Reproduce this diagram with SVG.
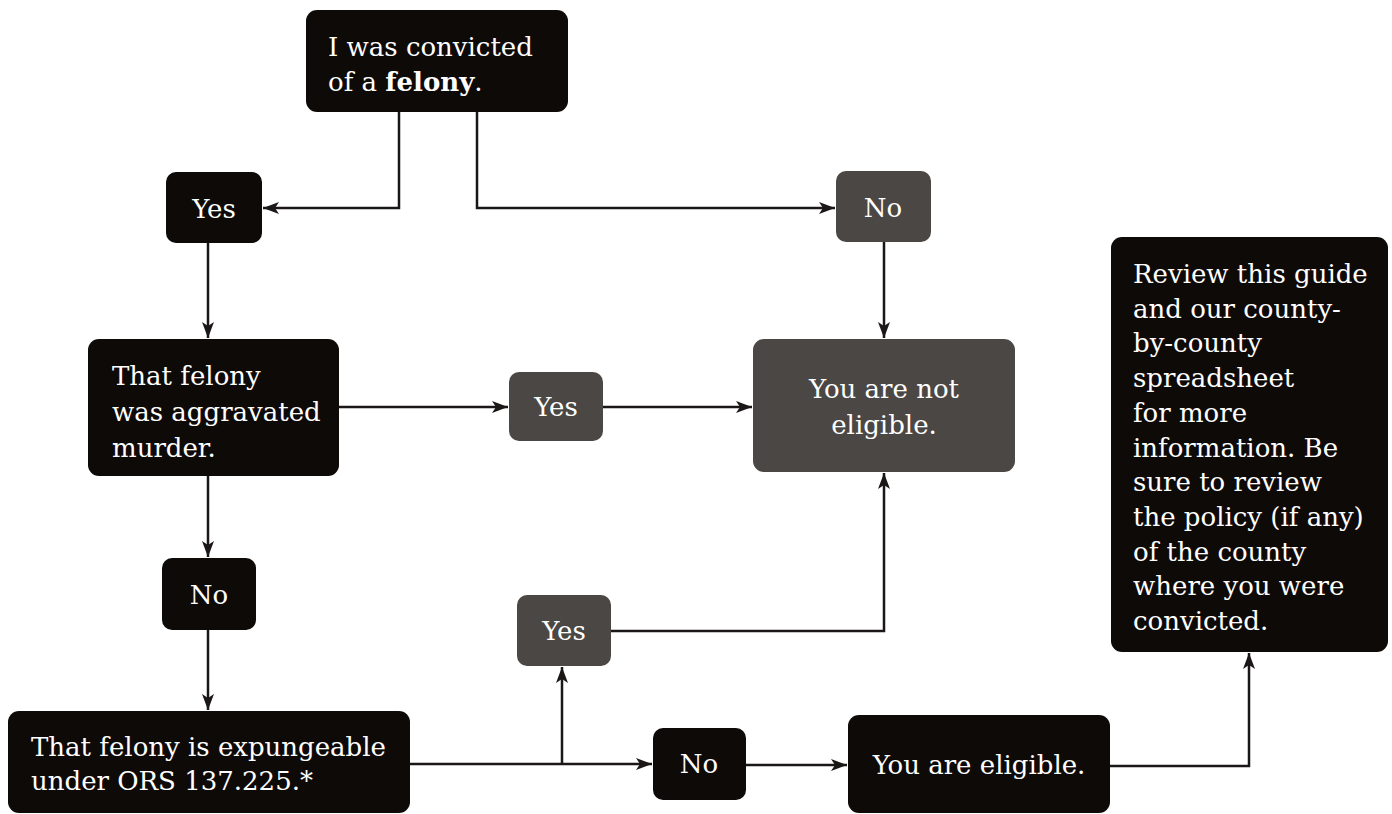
<svg xmlns="http://www.w3.org/2000/svg" width="1392" height="814" viewBox="0 0 1392 814">
<style>
.dk{fill:#0e0a08}
.gr{fill:#4b4744}
text{font-family:"DejaVu Serif","Liberation Serif",serif;font-size:26px;fill:#ffffff}
.c{fill:none;stroke:#1a1716;stroke-width:2.5}
</style>
<defs>
<marker id="a" viewBox="0 0 16 12" refX="16" refY="6" markerWidth="16" markerHeight="12" markerUnits="userSpaceOnUse" orient="auto">
<path d="M0,0 L16,6 L0,12 L4,6 Z" fill="#1a1716"/>
</marker>
</defs>
<rect width="1392" height="814" fill="#ffffff"/>
<g id="connectors">
<path class="c" d="M399,112 V208 H263" marker-end="url(#a)"/>
<path class="c" d="M477,112 V208 H835" marker-end="url(#a)"/>
<path class="c" d="M208,243 V338" marker-end="url(#a)"/>
<path class="c" d="M884,242 V338" marker-end="url(#a)"/>
<path class="c" d="M339,407 H508" marker-end="url(#a)"/>
<path class="c" d="M603,407 H752" marker-end="url(#a)"/>
<path class="c" d="M208,476 V557" marker-end="url(#a)"/>
<path class="c" d="M208,630 V710" marker-end="url(#a)"/>
<path class="c" d="M410,764 H652" marker-end="url(#a)"/>
<path class="c" d="M562,764 V667" marker-end="url(#a)"/>
<path class="c" d="M611,631 H884 V473" marker-end="url(#a)"/>
<path class="c" d="M746,765 H847" marker-end="url(#a)"/>
<path class="c" d="M1110,766 H1249 V653" marker-end="url(#a)"/>
</g>
<g id="n-felony">
<rect class="dk" x="306" y="10" width="262" height="102" rx="11"/>
<text x="328" y="56">I was convicted</text>
<text x="328" y="91">of a <tspan font-weight="bold">felony</tspan>.</text>
</g>
<g id="n-yes1">
<rect class="dk" x="166" y="172" width="96" height="71" rx="10"/>
<text x="214" y="218" text-anchor="middle">Yes</text>
</g>
<g id="n-no1">
<rect class="gr" x="836" y="171" width="95" height="71" rx="10"/>
<text x="883" y="217" text-anchor="middle">No</text>
</g>
<g id="n-aggravated">
<rect class="dk" x="88" y="339" width="251" height="137" rx="11"/>
<text x="112" y="385">That felony</text>
<text x="112" y="421">was aggravated</text>
<text x="112" y="457">murder.</text>
</g>
<g id="n-yes2">
<rect class="gr" x="509" y="372" width="94" height="69" rx="10"/>
<text x="556" y="416" text-anchor="middle">Yes</text>
</g>
<g id="n-noteligible">
<rect class="gr" x="753" y="339" width="262" height="133" rx="11"/>
<text x="884" y="398" text-anchor="middle">You are not</text>
<text x="884" y="434" text-anchor="middle">eligible.</text>
</g>
<g id="n-no2">
<rect class="dk" x="162" y="558" width="94" height="72" rx="10"/>
<text x="209" y="604" text-anchor="middle">No</text>
</g>
<g id="n-yes3">
<rect class="gr" x="517" y="595" width="94" height="71" rx="10"/>
<text x="564" y="640" text-anchor="middle">Yes</text>
</g>
<g id="n-expungeable">
<rect class="dk" x="8" y="711" width="402" height="102" rx="11"/>
<text x="31" y="756">That felony is expungeable</text>
<text x="31" y="790">under ORS 137.225.*</text>
</g>
<g id="n-no3">
<rect class="dk" x="653" y="728" width="93" height="72" rx="10"/>
<text x="699" y="773" text-anchor="middle">No</text>
</g>
<g id="n-eligible">
<rect class="dk" x="848" y="715" width="262" height="98" rx="11"/>
<text x="979" y="774" text-anchor="middle">You are eligible.</text>
</g>
<g id="n-review">
<rect class="dk" x="1111" y="237" width="277" height="415" rx="11"/>
<text x="1133" y="283">Review this guide</text>
<text x="1133" y="318">and our county-</text>
<text x="1133" y="352">by-county</text>
<text x="1133" y="387">spreadsheet</text>
<text x="1133" y="422">for more</text>
<text x="1133" y="457">information. Be</text>
<text x="1133" y="491">sure to review</text>
<text x="1133" y="526">the policy (if any)</text>
<text x="1133" y="561">of the county</text>
<text x="1133" y="595">where you were</text>
<text x="1133" y="630">convicted.</text>
</g>
</svg>
